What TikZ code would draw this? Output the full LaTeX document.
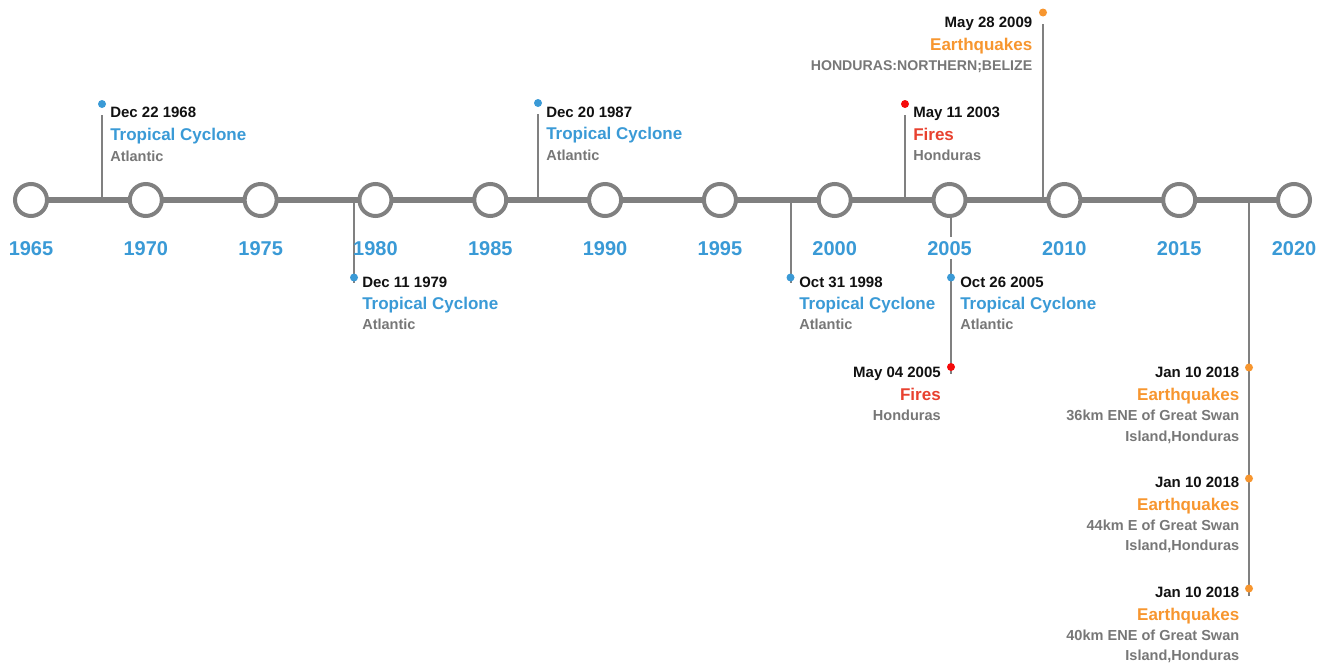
\documentclass[tikz,border=0pt]{standalone}
\usepackage{fontspec}
\setmainfont{Liberation Sans}
\definecolor{tlgray}{HTML}{808080}
\definecolor{cblue}{HTML}{3A9AD6}
\definecolor{corange}{HTML}{F7962F}
\definecolor{credtxt}{HTML}{E8412F}
\definecolor{creddot}{HTML}{F50A0A}
\definecolor{subgray}{HTML}{777777}
\definecolor{dateblack}{HTML}{111111}
\tikzset{
  timeline/.style={draw=tlgray, line width=4.5pt},
  yearring/.style={circle, draw=tlgray, fill=white, line width=3pt, minimum size=24pt, inner sep=0pt},
  yearlbl/.style={font=\fontsize{15}{18}\selectfont\bfseries, text=cblue, fill=white, inner xsep=-2pt, inner ysep=3pt, anchor=base},
  stem/.style={draw=tlgray, line width=1.5pt},
  evdot/.style={circle, inner sep=0pt, minimum size=6pt},
  datelbl/.style={font=\fontsize{11.25}{13}\selectfont\bfseries, text=dateblack, inner sep=0pt},
  titlelbl/.style={font=\fontsize{12.75}{15}\selectfont\bfseries, inner sep=0pt},
  sublbl/.style={font=\fontsize{10.9}{13}\selectfont\bfseries, text=subgray, inner sep=0pt},
}
\begin{document}
\begin{tikzpicture}[x=0.75pt,y=-0.75pt]
\useasboundingbox (0,0) rectangle (1328,664);
% stems
\coordinate (s68) at (102,200);  \coordinate (t68) at (102,115);
\coordinate (s79) at (354,200);  \coordinate (t79) at (354,283);
\coordinate (s87) at (538,200);  \coordinate (t87) at (538,114);
\coordinate (s98) at (790.5,200);\coordinate (t98) at (790.5,283);
\coordinate (s03) at (905,200);  \coordinate (t03) at (905,115);
\coordinate (s05a) at (951,200); \coordinate (t05a) at (951,283);
\coordinate (s05b) at (951,200); \coordinate (t05b) at (951,374);
\coordinate (s09) at (1043,200); \coordinate (t09) at (1043,24);
\coordinate (s18a) at (1249,200);\coordinate (t18a) at (1249,373);
\coordinate (s18b) at (1249,200);\coordinate (t18b) at (1249,484);
\coordinate (s18c) at (1249,200);\coordinate (t18c) at (1249,596);
\foreach \a/\b in {s68/t68,s79/t79,s87/t87,s98/t98,s03/t03,s05a/t05a,s05b/t05b,s09/t09,s18a/t18a,s18b/t18b,s18c/t18c}
  \draw[stem] (\a) -- (\b);
% timeline
\foreach \yr [count=\i from 0] in {1965,1970,...,2020}
  \coordinate (p\yr) at ({31+\i*114.8182},200);
\draw[timeline] (p1965) -- (p2020);
\foreach \yr in {1965,1970,...,2020}{
  \node[yearring] (c\yr) at (p\yr) {};
  \node[yearlbl] (y\yr) at ([yshift=-41.25pt]p\yr) {\yr};
}
% events
\node[evdot, fill=cblue] (d68) at (102,104) {};
\node[datelbl, anchor=base west] (a68) at (110,117) {Dec 22 1968};
\node[titlelbl, text=cblue, anchor=base west] (b68) at (110,140) {Tropical Cyclone};
\node[sublbl, anchor=base west] (e68) at (110,161) {Atlantic};

\node[evdot, fill=cblue] (d79) at (354,277.5) {};
\node[datelbl, anchor=base west] (a79) at (362,287) {Dec 11 1979};
\node[titlelbl, text=cblue, anchor=base west] (b79) at (362,309.5) {Tropical Cyclone};
\node[sublbl, anchor=base west] (e79) at (362,329.5) {Atlantic};

\node[evdot, fill=cblue] (d87) at (538,103) {};
\node[datelbl, anchor=base west] (a87) at (546,117) {Dec 20 1987};
\node[titlelbl, text=cblue, anchor=base west] (b87) at (546,139.5) {Tropical Cyclone};
\node[sublbl, anchor=base west] (e87) at (546,160) {Atlantic};

\node[evdot, fill=cblue] (d98) at (790.5,277.5) {};
\node[datelbl, anchor=base west] (a98) at (799,287) {Oct 31 1998};
\node[titlelbl, text=cblue, anchor=base west] (b98) at (799,309.5) {Tropical Cyclone};
\node[sublbl, anchor=base west] (e98) at (799,329.5) {Atlantic};

\node[evdot, fill=creddot] (d03) at (905,104) {};
\node[datelbl, anchor=base west] (a03) at (913,117) {May 11 2003};
\node[titlelbl, text=credtxt, anchor=base west] (b03) at (913,140) {Fires};
\node[sublbl, anchor=base west] (e03) at (913,160.5) {Honduras};

\node[evdot, fill=cblue] (d05a) at (951,277.5) {};
\node[datelbl, anchor=base west] (a05a) at (960,287) {Oct 26 2005};
\node[titlelbl, text=cblue, anchor=base west] (b05a) at (960,309.5) {Tropical Cyclone};
\node[sublbl, anchor=base west] (e05a) at (960,329.5) {Atlantic};

\node[evdot, fill=creddot] (d05b) at (951,367) {};
\node[datelbl, anchor=base east] (a05b) at (941,377) {May 04 2005};
\node[titlelbl, text=credtxt, anchor=base east] (b05b) at (941,400) {Fires};
\node[sublbl, anchor=base east] (e05b) at (941,420) {Honduras};

\node[evdot, fill=corange] (d09) at (1043,12.5) {};
\node[datelbl, anchor=base east] (a09) at (1032.5,27.3) {May 28 2009};
\node[titlelbl, text=corange, anchor=base east] (b09) at (1032.5,50) {Earthquakes};
\node[sublbl, anchor=base east, font=\fontsize{10.6}{13}\selectfont\bfseries] (e09) at (1032.5,70) {HONDURAS:NORTHERN;BELIZE};

\node[evdot, fill=corange] (d18a) at (1249,367.5) {};
\node[datelbl, anchor=base east] (a18a) at (1239.5,377) {Jan 10 2018};
\node[titlelbl, text=corange, anchor=base east] (b18a) at (1239.5,400) {Earthquakes};
\node[sublbl, anchor=base east] (e18a) at (1239.5,420) {36km ENE of Great Swan};
\node[sublbl, anchor=base east] (f18a) at (1239.5,441) {Island,Honduras};

\node[evdot, fill=corange] (d18b) at (1249,478.5) {};
\node[datelbl, anchor=base east] (a18b) at (1239.5,487.5) {Jan 10 2018};
\node[titlelbl, text=corange, anchor=base east] (b18b) at (1239.5,510.7) {Earthquakes};
\node[sublbl, anchor=base east] (e18b) at (1239.5,530.7) {44km E of Great Swan};
\node[sublbl, anchor=base east] (f18b) at (1239.5,550.7) {Island,Honduras};

\node[evdot, fill=corange] (d18c) at (1249,588.5) {};
\node[datelbl, anchor=base east] (a18c) at (1239.5,597.5) {Jan 10 2018};
\node[titlelbl, text=corange, anchor=base east] (b18c) at (1239.5,620.7) {Earthquakes};
\node[sublbl, anchor=base east] (e18c) at (1239.5,640.7) {40km ENE of Great Swan};
\node[sublbl, anchor=base east] (f18c) at (1239.5,660.7) {Island,Honduras};
\end{tikzpicture}
\end{document}
